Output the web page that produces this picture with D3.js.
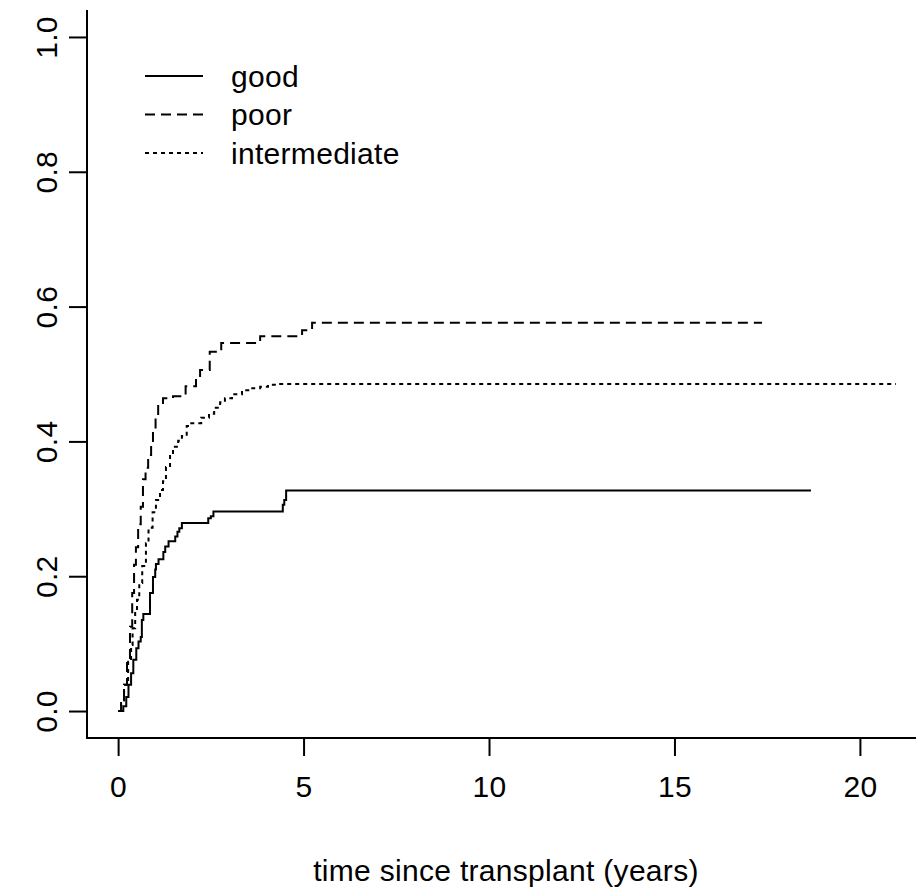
<!DOCTYPE html>
<html>
<head>
<meta charset="utf-8">
<script src="https://cdn.jsdelivr.net/npm/d3@7"></script>
<style>
  html, body { margin: 0; padding: 0; background: #fff; }
  svg { display: block; }
  text { font-family: Arial, "Liberation Sans", sans-serif; fill: #000; letter-spacing: 0.3px; }
</style>
</head>
<body>
<svg id="chart" width="916" height="890"></svg>
<script>
// Cumulative incidence step curves by risk group (years since transplant)
const goodTimes  = [0, 0.14, 0.22, 0.28, 0.35, 0.41, 0.49, 0.55, 0.61, 0.64, 0.68, 0.86, 0.94, 1.00, 1.02, 1.09, 1.22, 1.27, 1.36, 1.54, 1.60, 1.65, 1.72, 2.43, 2.50, 2.57, 4.44, 4.48, 4.53, 18.68];
const goodValues = [0, 0.007, 0.021, 0.039, 0.056, 0.076, 0.093, 0.103, 0.110, 0.135, 0.144, 0.175, 0.199, 0.210, 0.218, 0.225, 0.236, 0.244, 0.252, 0.259, 0.266, 0.271, 0.279, 0.286, 0.289, 0.296, 0.306, 0.313, 0.327, 0.327];

const poorTimes  = [0, 0.08, 0.16, 0.24, 0.32, 0.38, 0.43, 0.48, 0.54, 0.61, 0.67, 0.74, 0.81, 0.89, 0.94, 1.01, 1.08, 1.21, 1.48, 1.82, 2.10, 2.21, 2.47, 2.78, 3.83, 4.96, 5.23, 17.36];
const poorValues = [0, 0.016, 0.039, 0.076, 0.125, 0.175, 0.217, 0.243, 0.277, 0.303, 0.344, 0.361, 0.380, 0.399, 0.418, 0.439, 0.457, 0.464, 0.467, 0.482, 0.494, 0.506, 0.533, 0.546, 0.556, 0.565, 0.576, 0.576];

const interTimes  = [0, 0.08, 0.16, 0.27, 0.35, 0.39, 0.46, 0.51, 0.57, 0.65, 0.75, 0.82, 0.93, 1.02, 1.13, 1.21, 1.29, 1.40, 1.48, 1.62, 1.72, 1.85, 1.94, 2.24, 2.45, 2.59, 2.75, 2.88, 3.07, 3.34, 3.56, 3.83, 4.04, 4.29, 20.97];
const interValues = [0, 0.016, 0.039, 0.073, 0.098, 0.123, 0.147, 0.165, 0.190, 0.215, 0.249, 0.272, 0.295, 0.313, 0.328, 0.341, 0.362, 0.380, 0.392, 0.401, 0.408, 0.423, 0.427, 0.435, 0.441, 0.450, 0.458, 0.464, 0.470, 0.476, 0.479, 0.481, 0.484, 0.485, 0.485];

const groupNames = ["good", "poor", "intermediate"];
const xTicks = [0, 5, 10, 15, 20];
const yTicks = [0, 0.2, 0.4, 0.6, 0.8, 1.0];
const xTitle = "time since transplant (years)";

const series = [
  { name: groupNames[0], t: goodTimes,  v: goodValues,  dash: null },
  { name: groupNames[1], t: poorTimes,  v: poorValues,  dash: "10,6" },
  { name: groupNames[2], t: interTimes, v: interValues, dash: "4,4" }
];

const svg = d3.select("#chart");
const fontSize = 30;
const fontFamily = "Arial, 'Liberation Sans', sans-serif";

// Plot region with a 4% padding on both axes
const xMax = d3.max(series, s => d3.max(s.t));
const xPad = xMax * 0.04;
const x = d3.scaleLinear().domain([-xPad, xMax + xPad]).range([87, 927]);
const y = d3.scaleLinear().domain([-0.04, 1.04]).range([738, 10]);

// L-shaped frame
svg.append("path")
  .attr("d", `M${x.range()[0]},${y.range()[1]}V${y.range()[0]}H${x.range()[1]}`)
  .attr("fill", "none").attr("stroke", "#000").attr("stroke-width", 2);

// X axis
const xAxis = d3.axisBottom(x).tickValues(xTicks).tickSize(18).tickPadding(20).tickFormat(d3.format("d"));
const gx = svg.append("g").attr("transform", `translate(0,${y.range()[0]})`).call(xAxis);
gx.select(".domain").remove();
gx.selectAll(".tick line").attr("stroke", "#000").attr("stroke-width", 2);
gx.selectAll(".tick text").attr("font-size", fontSize).attr("font-family", fontFamily).attr("fill", "#000");

// Y axis, labels parallel to the axis
const yAxis = d3.axisLeft(y).tickValues(yTicks).tickSize(18).tickFormat(d3.format(".1f"));
const gy = svg.append("g").attr("transform", `translate(${x.range()[0]},0)`).call(yAxis);
gy.select(".domain").remove();
gy.selectAll(".tick line").attr("stroke", "#000").attr("stroke-width", 2);
gy.selectAll(".tick text")
  .attr("font-size", fontSize).attr("font-family", fontFamily).attr("fill", "#000")
  .attr("x", null).attr("dy", null)
  .attr("text-anchor", "middle")
  .attr("transform", "translate(-30,0) rotate(-90)");

// Axis title
svg.append("text")
  .attr("x", 506).attr("y", 881)
  .attr("text-anchor", "middle").attr("font-size", fontSize)
  .text(xTitle);

// Step curves
const line = d3.line()
  .x(d => x(d[0])).y(d => y(d[1]))
  .curve(d3.curveStepAfter);

series.forEach(s => {
  const pts = s.t.map((t, i) => [t, s.v[i]]);
  svg.append("path")
    .attr("d", line(pts))
    .attr("fill", "none")
    .attr("stroke", "#000")
    .attr("stroke-width", 2)
    .attr("stroke-dasharray", s.dash);
});

// Legend
const legend = svg.append("g");
series.forEach((s, i) => {
  const ly = 76 + i * 38.5;
  legend.append("line")
    .attr("x1", 145).attr("x2", 203).attr("y1", ly).attr("y2", ly)
    .attr("stroke", "#000").attr("stroke-width", 2)
    .attr("stroke-dasharray", s.dash);
  legend.append("text")
    .attr("x", 231).attr("y", ly).attr("dy", "0.35em")
    .attr("font-size", fontSize)
    .text(s.name);
});
</script>
</body>
</html>
